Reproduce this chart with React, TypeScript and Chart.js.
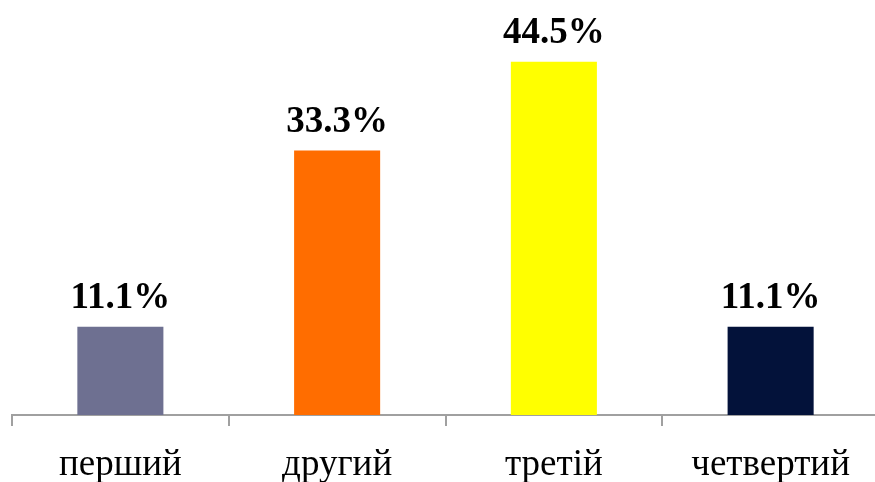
import React, { useEffect, useRef } from "react";
import { Chart, registerables } from "chart.js";

Chart.register(...registerables);

const categories = ["перший", "другий", "третій", "четвертий"];
const values = [11.1, 33.3, 44.5, 11.1];
const barColors = ["#6E7091", "#FF6D00", "#FFFF00", "#03123A"];

const valueLabels = {
  id: "valueLabels",
  afterDatasetsDraw(chart: any) {
    const ctx = chart.ctx;
    const meta = chart.getDatasetMeta(0);
    ctx.save();
    ctx.font = "bold 37px 'Liberation Serif', 'Times New Roman', serif";
    ctx.fillStyle = "#000000";
    ctx.textAlign = "center";
    ctx.textBaseline = "alphabetic";
    meta.data.forEach((bar: any, i: number) => {
      ctx.fillText(values[i].toFixed(1) + "%", bar.x, bar.y - 19);
    });
    ctx.restore();
  },
};

export default function App() {
  const ref = useRef<HTMLCanvasElement>(null);
  useEffect(() => {
    if (!ref.current) return;
    const chart = new Chart(ref.current, {
      type: "bar",
      data: {
        labels: categories,
        datasets: [
          {
            data: values,
            backgroundColor: barColors,
            barPercentage: 0.397,
            categoryPercentage: 1,
          },
        ],
      },
      options: {
        animation: false,
        responsive: false,
        maintainAspectRatio: false,
        layout: { padding: { left: 12, right: 1, top: 18, bottom: 0 } },
        plugins: { legend: { display: false }, tooltip: { enabled: false } },
        scales: {
          y: { display: false, min: 0, max: 50 },
          x: {
            border: { display: true, color: "#A0A0A0", width: 2 },
            grid: {
              display: true,
              drawOnChartArea: false,
              drawTicks: true,
              tickLength: 11,
              color: "#A0A0A0",
              lineWidth: 2,
              offset: true,
            },
            ticks: {
              color: "#000000",
              padding: 17,
              maxRotation: 0,
              font: { family: "'Liberation Serif', 'Times New Roman', serif", size: 37 },
            },
            afterFit(scale: any) {
              scale.height = 67;
            },
          },
        },
      },
      plugins: [valueLabels],
    });
    return () => chart.destroy();
  }, []);
  return (
    <div style={{ position: "absolute", left: 0, top: 0, width: 875, height: 482, overflow: "hidden", background: "#fff" }}>
      <canvas ref={ref} width={880} height={482} style={{ display: "block" }} />
    </div>
  );
}
